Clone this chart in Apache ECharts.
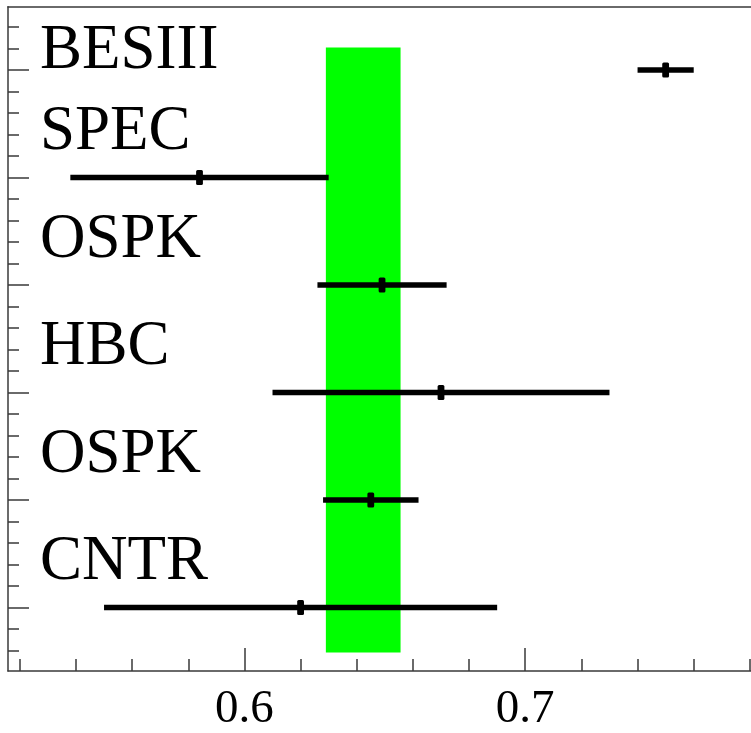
<!DOCTYPE html>
<html>
<head>
<meta charset="utf-8">
<script src="https://cdn.jsdelivr.net/npm/echarts@6/dist/echarts.min.js"></script>
<style>html,body{margin:0;padding:0;background:#fff;}#c{width:751px;height:733px;}</style>
</head>
<body>
<div id="c"></div>
<script>
// Measurements, top to bottom in the picture
const experiments = ['BESIII', 'SPEC', 'OSPK', 'HBC', 'OSPK', 'CNTR'];
const centralValues = [0.750, 0.584, 0.649, 0.670, 0.645, 0.620];
const errors = [0.010, 0.046, 0.023, 0.060, 0.017, 0.070];
const rows = [6, 5, 4, 3, 2, 1];
// Green average band
const bandX = [0.629, 0.6556];
const bandY = [0.583, 6.21];
// Axis ticks
const xMajorTicks = [0.6, 0.7];
const xMinorTicks = [0.52,0.54,0.56,0.58,0.60,0.62,0.64,0.66,0.68,0.70,0.72,0.74,0.76,0.78];
const yMajorTicks = [1, 2, 3, 4, 5, 6];
const yMinorTicks = [];
for (let k = 3; k <= 32; k++) yMinorTicks.push(+(k * 0.2).toFixed(1));

const X_MIN = 0.5158, X_MAX = 0.7804, Y_MIN = 0.41, Y_MAX = 6.59;
const AX = '#3a3a3a';
const SERIF = '"Liberation Serif", "DejaVu Serif", serif';

const chart = echarts.init(document.getElementById('c'), null, {renderer: 'canvas'});

const pointData = experiments.map((n, i) => [centralValues[i], errors[i], rows[i], n]);

const option = {
  animation: false,
  backgroundColor: '#fff',
  grid: {left: 8, right: 0, top: 6.7, bottom: 56.3, show: false},
  xAxis: [
    {type: 'value', min: X_MIN, max: X_MAX, position: 'bottom',
     axisLine: {show: true, onZero: false, lineStyle: {color: AX, width: 1.5}},
     axisTick: {show: true, inside: true, length: 23, customValues: xMajorTicks, lineStyle: {color: AX, width: 1.5}},
     axisLabel: {show: true, customValues: xMajorTicks, margin: 15, formatter: v => v.toFixed(1),
                 fontFamily: SERIF, fontSize: 47, color: '#000'},
     splitLine: {show: false}},
    {type: 'value', min: X_MIN, max: X_MAX, position: 'bottom',
     axisLine: {show: false},
     axisTick: {show: true, inside: true, length: 12, customValues: xMinorTicks, lineStyle: {color: AX, width: 1.5}},
     axisLabel: {show: false}, splitLine: {show: false}},
    {type: 'value', min: X_MIN, max: X_MAX, position: 'top',
     axisLine: {show: true, onZero: false, lineStyle: {color: AX, width: 1.5}},
     axisTick: {show: false}, axisLabel: {show: false}, splitLine: {show: false}}
  ],
  yAxis: [
    {type: 'value', min: Y_MIN, max: Y_MAX, position: 'left',
     axisLine: {show: true, onZero: false, lineStyle: {color: AX, width: 1.5}},
     axisTick: {show: true, inside: true, length: 21, customValues: yMajorTicks, lineStyle: {color: AX, width: 1.5}},
     axisLabel: {show: false}, splitLine: {show: false}},
    {type: 'value', min: Y_MIN, max: Y_MAX, position: 'left',
     axisLine: {show: false},
     axisTick: {show: true, inside: true, length: 11, customValues: yMinorTicks, lineStyle: {color: AX, width: 1.5}},
     axisLabel: {show: false}, splitLine: {show: false}}
  ],
  series: [
    {
      type: 'custom', xAxisIndex: 0, yAxisIndex: 0, z: 1,
      data: [[bandX[0], bandX[1], bandY[0], bandY[1]]],
      renderItem: function (params, api) {
        const p1 = api.coord([api.value(0), api.value(3)]);
        const p2 = api.coord([api.value(1), api.value(2)]);
        return {type: 'rect', shape: {x: p1[0], y: p1[1], width: p2[0] - p1[0], height: p2[1] - p1[1]},
                style: {fill: '#00ff00'}};
      }
    },
    {
      type: 'custom', xAxisIndex: 0, yAxisIndex: 0, z: 3,
      data: pointData,
      renderItem: function (params, api) {
        const c = api.value(0), e = api.value(1), r = api.value(2);
        const a = api.coord([c - e, r]), b = api.coord([c + e, r]), m = api.coord([c, r]);
        return {type: 'group', children: [
          {type: 'line', shape: {x1: a[0], y1: a[1], x2: b[0], y2: b[1]},
           style: {stroke: '#000', lineWidth: 5.5}},
          {type: 'rect', shape: {x: m[0] - 3.4, y: m[1] - 7.5, width: 6.8, height: 15, r: 1.5},
           style: {fill: '#000'}}
        ]};
      }
    },
    {
      type: 'custom', xAxisIndex: 0, yAxisIndex: 0, z: 4,
      data: pointData,
      renderItem: function (params, api) {
        const r = api.value(2);
        const cs = params.coordSys;
        const p = api.coord([X_MIN, r + 0.23]);
        const baseline = Math.max(p[1], cs.y + 65);
        return {type: 'text', x: cs.x + 32, y: baseline - 20,
                style: {text: experiments[params.dataIndex], font: '63px ' + SERIF, fill: '#000',
                        align: 'left', verticalAlign: 'middle'}};
      }
    }
  ]
};
chart.setOption(option);
</script>
</body>
</html>
